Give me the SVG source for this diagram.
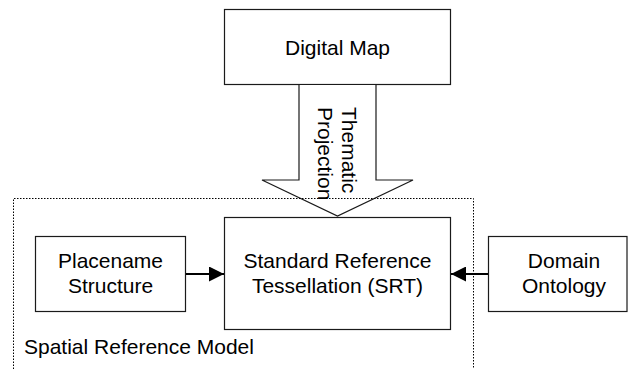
<svg xmlns="http://www.w3.org/2000/svg" width="628" height="369" viewBox="0 0 628 369">
<defs>
<style>
.box{fill:#fff;stroke:#1a1a1a;stroke-width:1.2}
.t{font-family:"Liberation Sans",Arial,sans-serif;font-size:21px;fill:#000;text-anchor:middle}
.ts{font-family:"Liberation Sans",Arial,sans-serif;font-size:21px;fill:#000}
.ln{stroke:#000;stroke-width:2;fill:none}
.dot{fill:none;stroke:#000;stroke-width:1;stroke-dasharray:1.5 1.5}
</style>
<marker id="ah" markerWidth="15" markerHeight="15" refX="15" refY="7.5" orient="auto" markerUnits="userSpaceOnUse">
<path d="M0,0 L15,7.5 L0,15 Z" fill="#000"/>
</marker>
</defs>
<rect width="628" height="369" fill="#fff"/>
<g id="digital-map">
<rect class="box" x="224.5" y="9.5" width="226" height="75"/>
<text class="t" x="337.5" y="55">Digital Map</text>
</g>
<g id="thematic-projection">
<polygon class="box" points="299,84.5 376,84.5 376,180 413,180 337.5,216 262,180 299,180"/>
<text class="ts" transform="translate(341.5,107) rotate(90)">Thematic</text>
<text class="ts" transform="translate(318,107) rotate(90)">Projection</text>
</g>
<g id="spatial-reference-model">
<path class="dot" d="M13.5,369 V198.5 H473.5 V369"/>
<text class="ts" x="24" y="354">Spatial Reference Model</text>
</g>
<g id="srt">
<rect class="box" x="224.5" y="217.5" width="226" height="112"/>
<text class="t" x="337.5" y="268">Standard Reference</text>
<text class="t" x="337.5" y="292.5">Tessellation (SRT)</text>
</g>
<g id="placename">
<rect class="box" x="35.5" y="236.5" width="150" height="75"/>
<text class="t" x="110.5" y="268">Placename</text>
<text class="t" x="110.5" y="292.5">Structure</text>
</g>
<g id="domain-ontology">
<rect class="box" x="488.5" y="236.5" width="138.5" height="75"/>
<text class="t" x="564" y="268">Domain</text>
<text class="t" x="564" y="292.5">Ontology</text>
</g>
<g id="connectors">
<line class="ln" x1="186" y1="274" x2="224" y2="274" marker-end="url(#ah)"/>
<line class="ln" x1="488" y1="274" x2="451" y2="274" marker-end="url(#ah)"/>
</g>
</svg>
